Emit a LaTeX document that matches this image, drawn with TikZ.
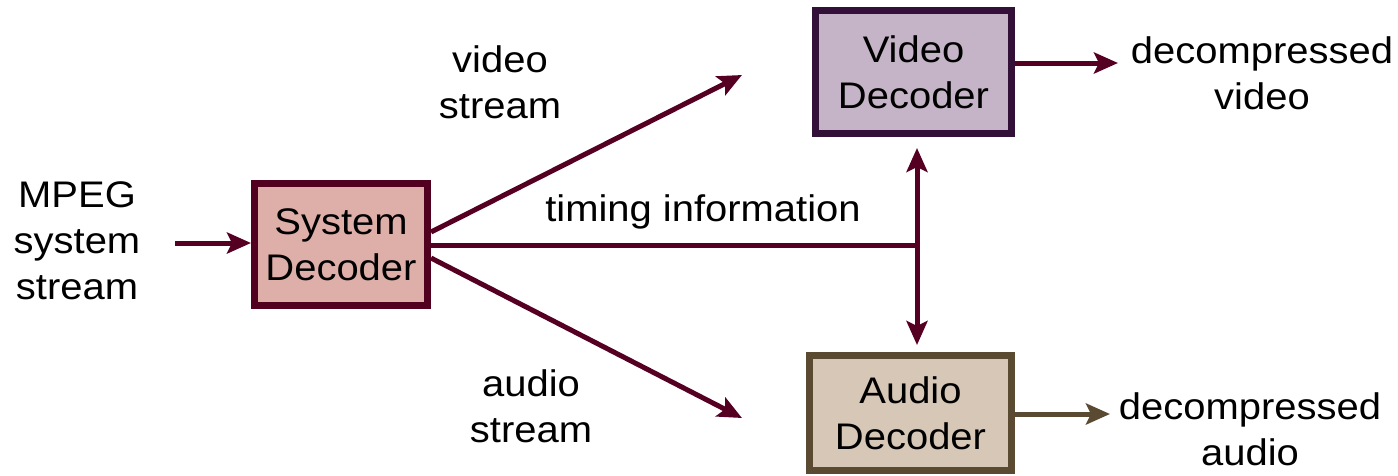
\documentclass[tikz,border=0pt]{standalone}
\usepackage{fontspec}
\setmainfont[FakeStretch=1.08]{Liberation Sans}
\usetikzlibrary{arrows.meta}
\definecolor{wire}{RGB}{85,0,35}
\definecolor{sysfill}{RGB}{222,174,168}
\definecolor{sysline}{RGB}{82,0,32}
\definecolor{vidfill}{RGB}{197,180,199}
\definecolor{vidline}{RGB}{50,16,56}
\definecolor{audfill}{RGB}{214,199,182}
\definecolor{audline}{RGB}{90,74,50}
\tikzset{
  box/.style={draw, line width=7pt, align=center, inner sep=0pt, font=\fontsize{37}{46}\selectfont},
  lbl/.style={align=center, inner sep=0pt, font=\fontsize{37}{46}\selectfont},
  wirearrow/.style={draw=wire, line width=5pt, -{Stealth[length=24pt,width=21pt,inset=5pt]}},
  dblarrow/.style={draw=wire, line width=5pt, {Stealth[length=24pt,width=21pt,inset=5pt]}-{Stealth[length=24pt,width=21pt,inset=5pt]}},
}
\begin{document}
\begin{tikzpicture}[x=1pt,y=-1pt]
\useasboundingbox (0,0) rectangle (1398,475);
\node[box, fill=sysfill, draw=sysline, minimum width=173pt, minimum height=122pt] (sys) at (341,244.5) {System\\Decoder};
\node[box, fill=vidfill, draw=vidline, minimum width=196pt, minimum height=123pt] (vid) at (913.5,72) {Video\\Decoder};
\node[box, fill=audfill, draw=audline, minimum width=202pt, minimum height=115pt] (aud) at (910.5,413) {Audio\\Decoder};

\coordinate (in) at (175,243);
\coordinate (vs) at (431,232);
\coordinate (vt) at (742,75);
\coordinate (as) at (431,258);
\coordinate (at) at (742,418);
\coordinate (ts) at (431,245);
\coordinate (tj) at (917,245);
\coordinate (up) at (917,148);
\coordinate (dn) at (917,345);
\coordinate (vo) at (1118,63);
\coordinate (ao) at (1110,414);
\coordinate (vsrc) at (1015,63);
\coordinate (asrc) at (1015,414);

\draw[wirearrow] (in) -- (in -| sys.west);
\draw[wirearrow] (vs) -- (vt);
\draw[wirearrow] (as) -- (at);
\draw[draw=wire, line width=5pt] (ts) -- (tj);
\draw[dblarrow] (up) -- (dn);
\draw[wirearrow] (vsrc) -- (vo);
\draw[wirearrow, draw=audline] (asrc) -- (ao);

\node[lbl] (mpeg) at (77,241) {MPEG\\system\\stream};
\node[lbl] (vlab) at (500,82) {video\\stream};
\node[lbl] (tlab) at (703,212) {timing information};
\node[lbl] (alab) at (531,406) {audio\\stream};
\node[lbl] (dv) at (1262,73) {decompressed\\video};
\node[lbl] (da) at (1250,429) {decompressed\\audio};
\end{tikzpicture}
\end{document}
